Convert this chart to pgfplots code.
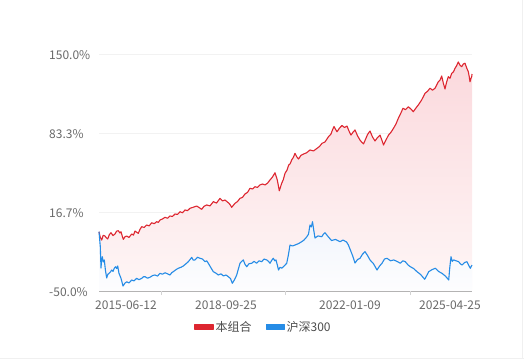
\documentclass[border=0pt]{standalone}
\usepackage{pgfplots}
\usepackage{pgfplotstable}
\pgfplotsset{compat=1.18}
\usepackage{fontspec}
\setmainfont{Noto Sans CJK SC}
\definecolor{myred}{RGB}{221,38,48}
\definecolor{myblue}{RGB}{38,140,230}
\definecolor{lbl}{RGB}{105,105,105}
\definecolor{redtop}{RGB}{251,217,221}
\definecolor{redbot}{RGB}{254,246,246}
\definecolor{bluetop}{RGB}{241,245,252}
\definecolor{bluebot}{RGB}{253,253,254}
\pgfplotstableread{
x y
0 0.0
1.2 -4.5
2.7 -7.0
4.2 -3.0
6 -3.6
7.2 -5.0
8.7 -6.1
10.3 -2.5
12 -0.8
14 -3.2
16 -1.9
17.6 0.5
19.3 0.9
20.8 -1.0
22 0.0
23.2 -3.5
24.3 -6.4
26 -4.2
27.7 -3.6
30 -4.8
32.7 -1.9
34.5 -2.8
36 0.6
37.8 -0.5
39.3 -1.3
41 2.0
42.7 4.3
45.2 3.6
47.7 5.7
50.2 5.0
52.7 7.6
55.2 6.8
57.7 8.5
59.3 7.9
61 9.9
63.5 10.8
66 12.2
68.5 11.4
71 13.3
73.5 12.9
76 15.0
78.5 14.6
81 16.9
83.5 16.0
86 18.4
88.5 17.8
91 19.8
94 20.6
97.7 21.7
100 20.5
102.7 18.9
105 21.5
107.7 22.6
111 21.8
114.3 25.4
117.5 24.2
121 28.2
123.5 26.0
126 26.8
129.3 24.5
131 23.0
132.7 20.6
134.5 22.5
136 24.0
138.5 25.5
141 28.2
143.5 29.0
146 31.9
148.5 33.2
151 36.7
153.5 36.1
156 38.0
158.5 37.4
161 39.5
163.5 40.3
166 39.5
168.5 41.0
171 43.7
173.5 46.2
176 49.8
178.3 43.7
180.3 34.6
182.7 40.9
184.3 44.0
186 49.3
188 52.0
189.7 56.3
191.2 57.5
192.7 60.6
194.5 63.0
196 66.2
197.8 63.2
199.5 61.4
202 64.5
204.5 65.6
207.5 66.6
211 69.0
214.5 68.2
218 70.4
220.5 72.0
223 74.6
226 75.8
229.5 80.2
232 82.5
233.5 86.0
235 88.8
236.5 86.5
238 84.4
240.5 87.5
243 89.7
245.5 88.0
248 89.2
250 85.0
252 81.6
254 84.0
256 85.9
258.5 81.0
261 77.4
262.8 75.5
264.5 74.1
266.5 78.0
268.5 82.0
271 85.0
273.5 80.0
276 76.6
278.5 79.5
281 81.6
283 77.0
284.5 73.2
287 77.5
289.5 81.6
292 84.0
294.5 87.3
297 91.0
299.3 95.7
301.5 99.5
304 104.2
306.5 103.0
309.3 105.5
312 103.5
314.3 101.3
317 104.5
319.3 107.0
322.5 111.0
326 116.8
328.5 118.5
331 121.1
333.5 119.5
336 121.1
337.8 124.0
339.3 126.6
341 128.0
342.7 131.4
344.3 125.5
346 120.5
347.5 126.0
349.3 130.9
351 129.5
352.7 133.7
354.5 135.0
356 137.9
357.5 140.0
359.3 143.3
361 140.5
362.7 139.3
364.3 141.5
366 142.2
367.8 138.0
369.3 135.1
370.2 131.0
371 126.6
372 129.5
372.7 130.9
373 133.1
}\redtab
\pgfplotstableread{
x y
0 0.0
1.3 -12.6
2 -30.6
2.6 -24.0
3.3 -21.1
4.3 -25.5
5.3 -23.8
6.5 -33.0
7.7 -39.0
8.8 -36.0
10 -35.1
11.4 -34.0
12.7 -32.3
14 -33.5
15.3 -30.8
16.7 -29.5
17.7 -31.0
18.7 -28.9
20 -35.1
22 -39.3
24 -45.8
25.8 -43.5
27.7 -42.2
30 -43.2
32.7 -40.7
35 -41.5
37.7 -39.3
40 -40.5
42.7 -39.3
44.5 -38.0
46 -37.9
48.5 -39.2
51 -38.4
53.5 -37.0
56 -36.5
58.5 -37.4
61 -35.1
63.5 -35.8
66 -34.6
68.5 -35.5
71 -36.5
72.8 -34.5
74.3 -33.7
77 -32.0
79.3 -30.8
82 -30.0
84.3 -28.9
87 -27.0
89.3 -25.3
91 -23.5
92.7 -21.6
94.3 -24.0
96 -23.8
98.5 -21.5
101 -22.4
103.5 -23.0
106 -25.3
107.7 -24.5
109.3 -26.6
112 -30.5
114.3 -33.7
117 -35.0
119.3 -36.5
122 -35.5
124.3 -37.3
127 -36.5
129.3 -37.9
131.5 -39.5
133.3 -43.5
135.5 -40.5
137.7 -36.5
139.5 -31.0
141 -26.6
142.7 -25.0
144.3 -23.8
146 -27.5
147.7 -29.5
150 -27.0
152.7 -26.6
155 -25.0
157.7 -26.6
160 -24.5
162.7 -25.3
165 -23.0
167.7 -23.8
169.5 -25.0
171 -26.6
172.8 -24.0
174.3 -22.4
175.8 -24.5
177 -23.8
178.3 -28.0
179.5 -32.3
181 -30.0
182.7 -30.8
185 -29.0
187.7 -26.6
189.3 -20.0
191 -11.2
193.5 -12.0
196 -11.2
199.5 -10.0
202.7 -8.4
205 -7.0
207.7 -4.4
209.5 -2.0
211 5.7
212.3 4.0
213.5 8.5
214.8 1.0
216 -5.3
219 -3.5
222.7 -4.2
224.5 -2.0
226 -0.8
229 -4.0
232.5 -7.4
236.5 -6.5
241 -8.4
244 -7.0
247.5 -8.6
249.3 -11.0
251 -14.6
253.5 -20.0
256 -26.4
258.5 -23.5
261 -22.4
263.5 -19.0
266 -16.8
268.5 -20.0
271 -23.8
274.5 -27.0
278 -32.3
280.5 -29.0
283 -26.6
285.5 -23.0
288 -22.4
291.5 -24.5
294.7 -23.8
298 -25.0
301.3 -26.6
303.8 -24.5
306.3 -25.3
309 -28.0
311.3 -29.5
314.5 -31.0
318 -33.7
321.5 -36.0
325.7 -40.1
327.7 -37.0
329.7 -33.7
333 -32.0
336.3 -30.8
339.5 -33.5
343 -35.1
346.5 -37.5
349.7 -40.7
350.8 -30.0
352 -21.1
353.3 -25.0
354.7 -23.8
357 -24.5
359.7 -25.3
361.3 -27.0
363 -28.1
365.5 -26.0
368 -25.3
369.8 -28.5
371.3 -30.8
373 -28.1
}\bluetab
\begin{document}
\begin{tikzpicture}
\path[use as bounding box] (0pt,0pt) rectangle (524pt,359pt);
\draw[gray!12, line width=0.8pt] (0pt,0.4pt) -- (524pt,0.4pt);
\draw[gray!12, line width=0.8pt] (522.6pt,0pt) -- (522.6pt,359pt);
\begin{axis}[
  at={(99pt,68pt)}, anchor=south west,
  scale only axis, width=373pt, height=237pt,
  xmin=0, xmax=373, ymin=-50, ymax=150,
  separate axis lines,
  axis x line*=bottom, axis y line*=left,
  x axis line style={draw=gray!75, line width=1.3pt, -},
  y axis line style={draw=none},
  ytick={-50,16.7,83.3,150},
  yticklabels={-50.0\%,16.7\%,83.3\%,150.0\%},
  ymajorgrids, grid style={draw=gray!10, line width=0.9pt},
  xtick={27,127,251,351},
  xticklabels={2015-06-12,2018-09-25,2022-01-09,2025-04-25},
  major tick length=0pt,
  extra x ticks={62,186,311},
  extra x tick labels={},
  extra x tick style={grid=none, major tick length=4pt, tick align=outside, tick style={draw=gray!35, line width=0.8pt}},
  yticklabel style={anchor=west, inner sep=0pt, xshift=-50pt, yshift=-1.5pt, font=\fontsize{12}{14}\selectfont, text=lbl},
  xticklabel style={inner sep=0pt, yshift=-10pt, font=\fontsize{12}{14}\selectfont, text=lbl},
  /pgf/number format/assume math mode=true,
  legend style={at={(0.441,-0.151)}, anchor=center, draw=none, fill=none, legend columns=2,
    font=\fontsize{12}{14}\selectfont, text=black!70, inner sep=0pt,
    /tikz/every even column/.append style={column sep=12pt}},
  legend image code/.code={\fill (0pt,-2.6pt) rectangle (18pt,2.6pt);},
  clip=false,
]
\addplot[draw=none, top color=redtop, bottom color=redbot, forget plot] table[x=x,y=y] {\redtab} -- (373,-50) -- (0,-50) -- cycle;
\addplot[draw=none, top color=bluetop, bottom color=bluebot, forget plot] table[x=x,y=y] {\bluetab} -- (373,-50) -- (0,-50) -- cycle;
\addplot[myred, line width=1.1pt, line join=round] table[x=x,y=y] {\redtab};
\addlegendentry{本组合}
\addplot[myblue, line width=1.1pt, line join=round] table[x=x,y=y] {\bluetab};
\addlegendentry{沪深300}
\end{axis}
\end{tikzpicture}
\end{document}
